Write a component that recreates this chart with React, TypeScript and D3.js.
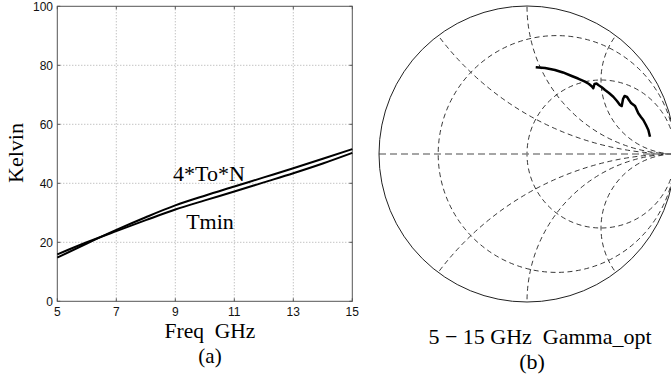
// Tmin / 4*To*N curves and Gamma_opt on a Smith chart
import React from 'react';
import * as d3 from 'd3';

// left panel data
const freq = [5, 6, 7, 8, 9, 10, 11, 12, 13, 14, 15];
const fourToN = [14.8, 19.6, 24.2, 28.5, 32.5, 35.8, 38.9, 42.0, 45.1, 48.3, 51.6];
const tmin = [15.9, 20.0, 23.8, 27.5, 31.1, 34.2, 37.2, 40.3, 43.4, 46.7, 50.3];
const xTicks = [5, 7, 9, 11, 13, 15];
const yTicks = [0, 20, 40, 60, 80, 100];

// right panel: Smith chart grid values and Gamma_opt trace (5 - 15 GHz)
const resistanceValues = [0.25, 1];
const reactanceValues = [0.5, 1, 2, -0.5, -1, -2];
const gammaRe = [0.059, 0.122, 0.189, 0.243, 0.302, 0.345, 0.392, 0.419, 0.439, 0.448, 0.456, 0.470, 0.482, 0.505, 0.527, 0.554, 0.583, 0.608, 0.628, 0.640, 0.649, 0.659, 0.676, 0.689, 0.703, 0.730, 0.752, 0.770, 0.786, 0.804, 0.820, 0.831];
const gammaIm = [0.586, 0.581, 0.568, 0.551, 0.527, 0.510, 0.489, 0.473, 0.456, 0.444, 0.473, 0.476, 0.466, 0.451, 0.432, 0.412, 0.387, 0.358, 0.331, 0.324, 0.372, 0.392, 0.385, 0.365, 0.345, 0.324, 0.275, 0.250, 0.230, 0.196, 0.162, 0.117];

const width = 671;
const height = 386;

// left axes box
const boxLeft = 57.3;
const boxRight = 352.3;
const boxTop = 6.3;
const boxBottom = 301.3;

// smith chart
const cx = 527;
const cy = 154;
const R = 148;

const serif = '"Liberation Serif", "Times New Roman", serif';
const sans = '"Liberation Sans", Arial, sans-serif';

const App: React.FC = () => {
  const x = d3.scaleLinear().domain([5, 15]).range([boxLeft, boxRight]);
  const y = d3.scaleLinear().domain([0, 100]).range([boxBottom, boxTop]);

  const line = d3
    .line<number>()
    .x((_, i) => x(freq[i]))
    .y(d => y(d))
    .curve(d3.curveMonotoneX);

  // gamma plane scales
  const gx = d3.scaleLinear().domain([-1, 1]).range([cx - R, cx + R]);
  const gy = d3.scaleLinear().domain([-1, 1]).range([cy + R, cy - R]);
  const k = R; // one gamma unit in px

  const gammaLine = d3
    .line<number>()
    .x(d => gx(d))
    .y((_, i) => gy(gammaIm[i]));

  return (
    <div style={{ position: 'absolute', left: 0, top: 0 }}>
      <svg width={width} height={height} style={{ display: 'block', background: '#fff' }}>
        <defs>
          <clipPath id="unit">
            <circle cx={gx(0)} cy={gy(0)} r={k} />
          </clipPath>
        </defs>

        {/* ---------- (a) ---------- */}
        <g>
          {xTicks.slice(1, -1).map(t => (
            <line key={'gx' + t} x1={x(t)} x2={x(t)} y1={boxTop} y2={boxBottom}
              stroke="#aaa" strokeWidth={1} strokeDasharray="1,2" />
          ))}
          {yTicks.slice(1, -1).map(t => (
            <line key={'gy' + t} x1={boxLeft} x2={boxRight} y1={y(t)} y2={y(t)}
              stroke="#aaa" strokeWidth={1} strokeDasharray="1,2" />
          ))}
          <rect x={boxLeft} y={boxTop} width={boxRight - boxLeft} height={boxBottom - boxTop}
            fill="none" stroke="#555" strokeWidth={1} />
          {xTicks.map(t => (
            <g key={'tx' + t}>
              <line x1={x(t)} x2={x(t)} y1={boxBottom} y2={boxBottom - 3} stroke="#555" />
              <line x1={x(t)} x2={x(t)} y1={boxTop} y2={boxTop + 3} stroke="#555" />
              <text x={x(t)} y={316} fontFamily={sans} fontSize={12} textAnchor="middle" fill="#111">{t}</text>
            </g>
          ))}
          {yTicks.map(t => (
            <g key={'ty' + t}>
              <line x1={boxLeft} x2={boxLeft + 3} y1={y(t)} y2={y(t)} stroke="#555" />
              <line x1={boxRight} x2={boxRight - 3} y1={y(t)} y2={y(t)} stroke="#555" />
              <text x={53} y={y(t) + 4.3} fontFamily={sans} fontSize={12} textAnchor="end" fill="#111">{t}</text>
            </g>
          ))}

          <path d={line(fourToN) || ''} fill="none" stroke="#000" strokeWidth={2} />
          <path d={line(tmin) || ''} fill="none" stroke="#000" strokeWidth={2} />

          <text x={209} y={181} fontFamily={serif} fontSize={22} textAnchor="middle">4*To*N</text>
          <text x={210} y={229} fontFamily={serif} fontSize={22} textAnchor="middle">Tmin</text>

          <text transform="translate(23,153) rotate(-90)" fontFamily={serif} fontSize={22} textAnchor="middle">Kelvin</text>
          <text x={210} y={338} fontFamily={serif} fontSize={21.5} textAnchor="middle" xmlSpace="preserve">Freq  GHz</text>
          <text x={210} y={363} fontFamily={serif} fontSize={21} textAnchor="middle">(a)</text>
        </g>

        {/* ---------- (b) ---------- */}
        <g>
          <g clipPath="url(#unit)" fill="none" stroke="#222" strokeWidth={0.9} strokeDasharray="5,3.5">
            {resistanceValues.map(r => (
              <circle key={'r' + r} cx={gx(r / (1 + r))} cy={gy(0)} r={k / (1 + r)} />
            ))}
            {reactanceValues.map(v => (
              <circle key={'x' + v} cx={gx(1)} cy={gy(1 / v)} r={k / Math.abs(v)} />
            ))}
          </g>
          <line x1={gx(-1)} x2={gx(1)} y1={gy(0)} y2={gy(0)} stroke="#888" strokeWidth={1.5} strokeDasharray="7,4" />
          <circle cx={gx(0)} cy={gy(0)} r={k} fill="none" stroke="#222" strokeWidth={1} />

          <path d={gammaLine(gammaRe) || ''} fill="none" stroke="#000" strokeWidth={2.5} strokeLinejoin="round" />

          <text x={540} y={344} fontFamily={serif} fontSize={22} textAnchor="middle" xmlSpace="preserve">5 − 15 GHz  Gamma_opt</text>
          <text x={532} y={369} fontFamily={serif} fontSize={22} textAnchor="middle">(b)</text>
        </g>
      </svg>
    </div>
  );
};

export default App;
